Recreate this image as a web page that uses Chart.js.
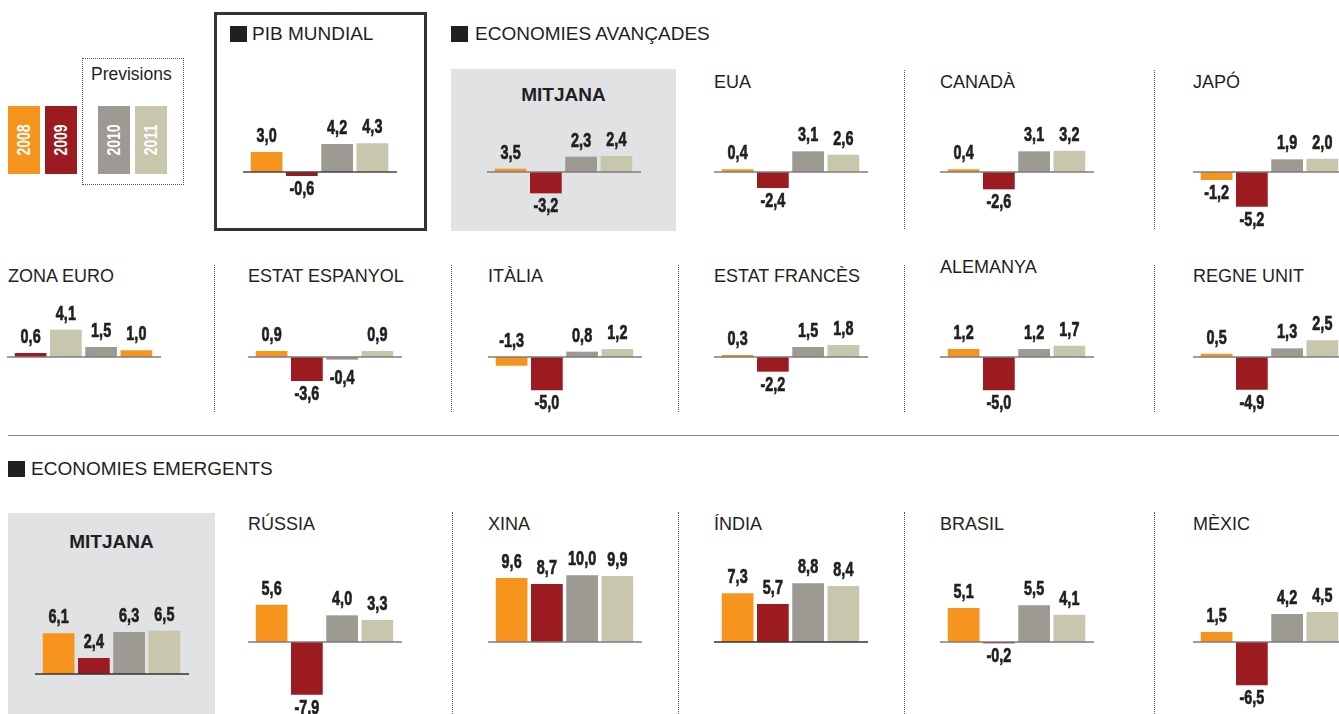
<!DOCTYPE html>
<html lang="ca">
<head>
<meta charset="utf-8">
<title>Previsions de creixement del PIB</title>
<script src="https://cdn.jsdelivr.net/npm/chart.js@4.4.0/dist/chart.umd.min.js"></script>
<style>
  html, body { margin: 0; padding: 0; background: #fff; }
  body {
    position: relative; width: 1339px; height: 714px; overflow: hidden;
    font-family: 'Liberation Sans', Arial, sans-serif; color: #231f20;
  }
  .box { position: absolute; box-sizing: border-box; }
  .head { position: absolute; font-size: 19px; line-height: 19px; white-space: nowrap; }
  .title { position: absolute; font-size: 18px; line-height: 18px; white-space: nowrap; }
  .sq { position: absolute; width: 17px; height: 16px; background: #231f20; }
  .mitjana { position: absolute; font-weight: bold; font-size: 19px; line-height: 19px; text-align: center; }
  .vsep { position: absolute; width: 0; border-left: 1px dotted #555; }
  .key { position: absolute; width: 32px; height: 68px; top: 106px; }
  .key span {
    position: absolute; left: 50%; top: 50%;
    transform: translate(-50%, -50%) rotate(-90deg) scale(0.78, 1);
    color: #fff; font: bold 18px 'Liberation Sans', Arial, sans-serif;
  }
  canvas { position: absolute; }
</style>
</head>
<body>

<!-- legend -->
<div class="key" style="left:8px;background:#f7941d"><span>2008</span></div>
<div class="key" style="left:45px;background:#9b1b20"><span>2009</span></div>
<div class="box" style="left:82px;top:58px;width:102px;height:127px;border:1px dotted #555"></div>
<div class="title" style="left:91px;top:65px;font-size:17.5px">Previsions</div>
<div class="key" style="left:98px;background:#9d9993"><span>2010</span></div>
<div class="key" style="left:135px;background:#c8c7ae"><span>2011</span></div>

<!-- headers and boxes -->
<div class="box" style="left:214px;top:12px;width:213px;height:219px;border:3px solid #333"></div>
<div class="sq" style="left:230px;top:26px"></div>
<div class="head" style="left:252px;top:24px">PIB MUNDIAL</div>

<div class="sq" style="left:451px;top:26px"></div>
<div class="head" style="left:475px;top:24px">ECONOMIES AVANÇADES</div>
<div class="box" style="left:451px;top:69px;width:225px;height:162px;background:#e1e2e4"></div>
<div class="mitjana" style="left:451px;width:225px;top:85px">MITJANA</div>

<div class="box" style="left:8px;top:435px;width:1331px;height:1px;background:#8a8a8a"></div>

<div class="sq" style="left:8px;top:461px"></div>
<div class="head" style="left:31px;top:459px">ECONOMIES EMERGENTS</div>
<div class="box" style="left:8px;top:513px;width:207px;height:210px;background:#e1e2e4"></div>
<div class="mitjana" style="left:8px;width:207px;top:532px">MITJANA</div>

<!-- dotted separators -->
<div class="vsep" style="left:904px;top:70px;height:159px"></div>
<div class="vsep" style="left:1154px;top:70px;height:159px"></div>
<div class="vsep" style="left:214px;top:265px;height:147px"></div>
<div class="vsep" style="left:451px;top:265px;height:147px"></div>
<div class="vsep" style="left:678px;top:265px;height:147px"></div>
<div class="vsep" style="left:904px;top:265px;height:147px"></div>
<div class="vsep" style="left:1154px;top:265px;height:147px"></div>
<div class="vsep" style="left:452px;top:512px;height:210px"></div>
<div class="vsep" style="left:678px;top:512px;height:210px"></div>
<div class="vsep" style="left:904px;top:512px;height:210px"></div>
<div class="vsep" style="left:1154px;top:512px;height:210px"></div>

<script>
// --- Data (creixement del PIB, %) ---
const years = ['2008', '2009', '2010', '2011'];

const pibMundial       = [3.0, -0.6, 4.2, 4.3];
const avancadesMitjana = [0.5, -3.2, 2.3, 2.4];   // bar as drawn; printed label says 3,5
const avancadesText    = ['3,5', null, null, null];
const eua              = [0.4, -2.4, 3.1, 2.6];
const canada           = [0.4, -2.6, 3.1, 3.2];
const japo             = [-1.2, -5.2, 1.9, 2.0];
const zonaEuro         = [0.6, 4.1, 1.5, 1.0];
const espanyol         = [0.9, -3.6, -0.4, 0.9];
const italia           = [-1.3, -5.0, 0.8, 1.2];
const frances          = [0.3, -2.2, 1.5, 1.8];
const alemanya         = [1.2, -5.0, 1.2, 1.7];
const regneUnit        = [0.5, -4.9, 1.3, 2.5];
const emergentsMitjana = [6.1, 2.4, 6.3, 6.5];
const russia           = [5.6, -7.9, 4.0, 3.3];
const xina             = [9.6, 8.7, 10.0, 9.9];
const india            = [7.3, 5.7, 8.8, 8.4];
const brasil           = [5.1, -0.2, 5.5, 4.1];
const mexic            = [1.5, -6.5, 4.2, 4.5];

// --- Colours ---
const ORANGE = '#f7941d', RED = '#9b1b20', GREY = '#9d9993', BEIGE = '#c8c7ae';
const yearColors = [ORANGE, RED, GREY, BEIGE];
const zonaEuroColors = [RED, BEIGE, GREY, ORANGE]; // as printed in the original

// --- Panel layout ---
const rowA = { zero: 172, half: 70, range: 10.5 };
const rowB = { zero: 357, half: 70, range: 10.5 };
const rowC = { zero: 642, half: 100, range: 15 };

const panels = [
  { values: pibMundial, left: 243, row: rowA, line: '#444' },
  { values: avancadesMitjana, left: 487, row: rowA, printed: avancadesText },
  { title: 'EUA', values: eua, left: 714, row: rowA, titleTop: 73 },
  { title: 'CANADÀ', values: canada, left: 940, row: rowA, titleTop: 73 },
  { title: 'JAPÓ', values: japo, left: 1193, row: rowA, titleTop: 73 },

  { title: 'ZONA EURO', values: zonaEuro, left: 7, row: rowB, titleTop: 267, titleLeft: 8, colors: zonaEuroColors },
  { title: 'ESTAT ESPANYOL', values: espanyol, left: 248, row: rowB, titleTop: 267, labelShift: [0, 0, 5, 0] },
  { title: 'ITÀLIA', values: italia, left: 488, row: rowB, titleTop: 267, labelAbove: [true, false, false, false] },
  { title: 'ESTAT FRANCÈS', values: frances, left: 714, row: rowB, titleTop: 267 },
  { title: 'ALEMANYA', values: alemanya, left: 940, row: rowB, titleTop: 258 },
  { title: 'REGNE UNIT', values: regneUnit, left: 1193, row: rowB, titleTop: 267 },

  { values: emergentsMitjana, left: 35, row: { zero: 674, half: 100, range: 15 }, line: '#333' },
  { title: 'RÚSSIA', values: russia, left: 248, row: rowC, titleTop: 515 },
  { title: 'XINA', values: xina, left: 488, row: rowC, titleTop: 515 },
  { title: 'ÍNDIA', values: india, left: 714, row: rowC, titleTop: 515, line: '#333' },
  { title: 'BRASIL', values: brasil, left: 940, row: rowC, titleTop: 515 },
  { title: 'MÈXIC', values: mexic, left: 1193, row: rowC, titleTop: 515 }
];

const PANEL_W = 154;
const LABEL_FONT = "bold 20px 'Liberation Sans', Arial, sans-serif";
const LABEL_SQUEEZE = 0.72;   // condensed look of the printed figures

function fmt(v) {
  return v.toFixed(1).replace('.', ',');
}

// zero line + value labels over / under each bar
function makeLabelPlugin(panel) {
  return {
    id: 'zeroAndLabels',
    afterDatasetsDraw(chart) {
      const ctx = chart.ctx;
      const y0 = Math.round(chart.scales.y.getPixelForValue(0));
      ctx.save();
      ctx.strokeStyle = panel.line || '#7d7d7d';
      ctx.lineWidth = 1.5;
      ctx.beginPath();
      ctx.moveTo(0, y0);
      ctx.lineTo(chart.width, y0);
      ctx.stroke();

      ctx.font = LABEL_FONT;
      ctx.fillStyle = '#231f20';
      ctx.strokeStyle = '#231f20';
      ctx.lineWidth = 0.7;
      ctx.textAlign = 'center';
      ctx.textBaseline = 'alphabetic';
      const vals = chart.data.datasets[0].data;
      chart.getDatasetMeta(0).data.forEach((bar, i) => {
        const v = vals[i];
        const txt = (panel.printed && panel.printed[i]) || fmt(v);
        const above = panel.labelAbove ? panel.labelAbove[i] : false;
        let y;
        if (v >= 0) y = bar.y - 10;
        else if (above) y = y0 - 10;
        else y = bar.y + 19;
        if (panel.labelShift) y += panel.labelShift[i];
        ctx.save();
        ctx.translate(bar.x, y);
        ctx.scale(LABEL_SQUEEZE, 1);
        ctx.fillText(txt, 0, 0);
        ctx.strokeText(txt, 0, 0);
        ctx.restore();
      });
      ctx.restore();
    }
  };
}

function drawPanel(panel) {
  if (panel.title) {
    const t = document.createElement('div');
    t.className = 'title';
    t.textContent = panel.title;
    t.style.left = (panel.titleLeft || panel.left) + 'px';
    t.style.top = panel.titleTop + 'px';
    document.body.appendChild(t);
  }

  const row = panel.row;
  const canvas = document.createElement('canvas');
  canvas.width = PANEL_W;
  canvas.height = row.half * 2;
  canvas.style.left = panel.left + 'px';
  canvas.style.top = (row.zero - row.half) + 'px';
  document.body.appendChild(canvas);

  new Chart(canvas.getContext('2d'), {
    type: 'bar',
    data: {
      labels: years,
      datasets: [{
        data: panel.values,
        backgroundColor: panel.colors || yearColors,
        borderWidth: 0,
        barPercentage: 0.9,
        categoryPercentage: 1
      }]
    },
    options: {
      responsive: false,
      animation: false,
      events: [],
      layout: { padding: { left: 6, right: 7, top: 0, bottom: 0 } },
      scales: {
        x: { display: false },
        y: { display: false, min: -row.range, max: row.range }
      },
      plugins: {
        legend: { display: false },
        tooltip: { enabled: false }
      }
    },
    plugins: [makeLabelPlugin(panel)]
  });
}

panels.forEach(drawPanel);
</script>
</body>
</html>
